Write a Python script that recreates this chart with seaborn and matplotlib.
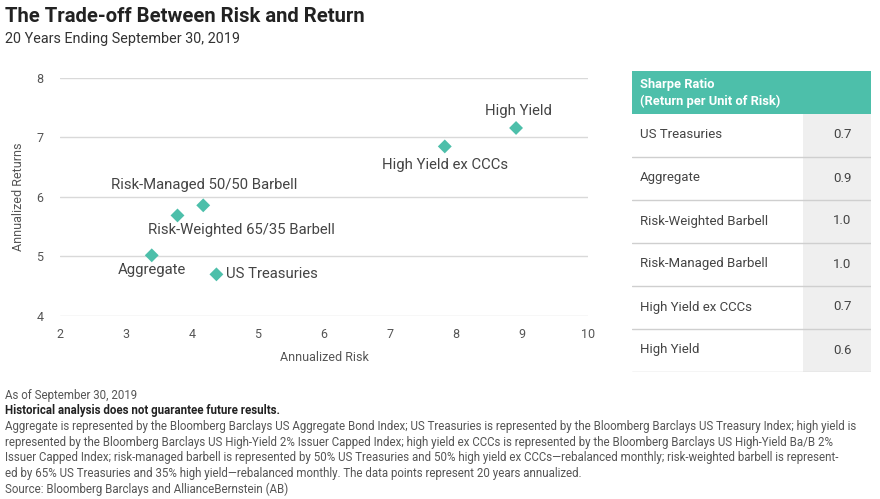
import pandas as pd
import seaborn as sns
import matplotlib.pyplot as plt
from matplotlib.patches import Rectangle

# %% data
names = ['High Yield', 'High Yield ex CCCs', 'Risk-Managed 50/50 Barbell',
         'Risk-Weighted 65/35 Barbell', 'Aggregate', 'US Treasuries']
risk = [8.91, 7.83, 4.17, 3.78, 3.39, 4.37]
ret = [7.16, 6.85, 5.86, 5.69, 5.02, 4.70]

table_names = ['US Treasuries', 'Aggregate', 'Risk-Weighted Barbell',
               'Risk-Managed Barbell', 'High Yield ex CCCs', 'High Yield']
sharpe = ['0.7', '0.9', '1.0', '1.0', '0.7', '0.6']

x_ticks = [2, 3, 4, 5, 6, 7, 8, 9, 10]
y_ticks = [4, 5, 6, 7, 8]

df = pd.DataFrame({'name': names, 'risk': risk, 'ret': ret})

# %% style
sns.set_theme(style='white')
plt.rcParams['font.family'] = ['Roboto', 'DejaVu Sans']
teal = '#4dbfaa'
grey_txt = '#555555'

fig = plt.figure(figsize=(8.8, 4.99), dpi=100)
W, H = 880, 499

ax = fig.add_axes([60 / W, 1 - 316 / H, 528 / W, 238 / H])
sns.scatterplot(data=df, x='risk', y='ret', marker='D', s=50, color=teal,
                edgecolor='none', ax=ax, zorder=3, legend=False)
ax.set_xlim(2, 10)
ax.set_ylim(4, 8)
ax.set_xticks(x_ticks)
ax.set_yticks(y_ticks)
ax.grid(axis='y', color='#d9d9d9', linewidth=1)
ax.grid(axis='x', visible=False)
sns.despine(ax=ax, left=True, bottom=True)
ax.tick_params(axis='both', colors=grey_txt, labelsize=9, length=0)
ax.tick_params(axis='y', pad=12)
ax.tick_params(axis='x', pad=9)
ax.set_xlabel('Annualized Risk', color=grey_txt, fontsize=9, labelpad=7)
ax.set_ylabel('Annualized Returns', color=grey_txt, fontsize=9, labelpad=8)

# label offsets in pixels (dx, dy, ha)
offsets = {
    'High Yield': (2, 17, 'center'),
    'High Yield ex CCCs': (0, -19, 'center'),
    'Risk-Managed 50/50 Barbell': (1, 20, 'center'),
    'Risk-Weighted 65/35 Barbell': (-29, -15, 'left'),
    'Aggregate': (0, -15, 'center'),
    'US Treasuries': (10, 0, 'left'),
}
for n, x, y in zip(names, risk, ret):
    dx, dy, ha = offsets[n]
    ax.annotate(n, (x, y), xytext=(dx, dy), textcoords='offset pixels',
                ha=ha, va='center', fontsize=10.7, color='#444444')

# %% sharpe ratio table
tax = fig.add_axes([632 / W, 1 - 372 / H, 239 / W, 301 / H])
tax.set_xlim(0, 239)
tax.set_ylim(301, 0)
tax.axis('off')
tax.add_patch(Rectangle((0, 0), 239, 43, color=teal, lw=0))
tax.text(8, 14, 'Sharpe Ratio', color='white', fontsize=9.3,
         fontweight='bold', va='center')
tax.text(8, 30, '(Return per Unit of Risk)', color='white', fontsize=9.3,
         fontweight='bold', va='center')
tax.add_patch(Rectangle((171, 43), 68, 258, color='#efefef', lw=0))
for i, (n, v) in enumerate(zip(table_names, sharpe)):
    y0 = 43 + 43 * i
    tax.text(8, y0 + 21, n, color='#444444', fontsize=9.5, va='center')
    tax.text(210, y0 + 21, v, color='#444444', fontsize=9.5, va='center',
             ha='center')
    tax.plot([0, 239], [y0 + 43, y0 + 43], color='#cfcfcf', lw=1)

# %% titles and notes
fig.text(5 / W, 1 - 17 / H, 'The Trade-off Between Risk and Return',
         fontsize=14.6, fontweight='bold', color='#222222', va='center')
fig.text(5 / W, 1 - 39 / H, '20 Years Ending September 30, 2019',
         fontsize=10.4, color='#333333', va='center')

notes = [
    ('As of September 30, 2019', 'normal'),
    ('Historical analysis does not guarantee future results.', 'bold'),
    ('Aggregate is represented by the Bloomberg Barclays US Aggregate Bond Index; US Treasuries is represented by the Bloomberg Barclays US Treasury Index; high yield is', 'normal'),
    ('represented by the Bloomberg Barclays US High-Yield 2% Issuer Capped Index; high yield ex CCCs is represented by the Bloomberg Barclays US High-Yield Ba/B 2%', 'normal'),
    ('Issuer Capped Index; risk-managed barbell is represented by 50% US Treasuries and 50% high yield ex CCCs\u2014rebalanced monthly; risk-weighted barbell is represent-', 'normal'),
    ('ed by 65% US Treasuries and 35% high yield\u2014rebalanced monthly. The data points represent 20 years annualized.', 'normal'),
    ('Source: Bloomberg Barclays and AllianceBernstein (AB)', 'normal'),
]
for i, (line, wt) in enumerate(notes):
    fig.text(5 / W, 1 - (395 + 15.7 * i) / H, line, fontsize=8.3,
             fontweight=wt, color='#222222' if wt == 'bold' else grey_txt,
             va='center')

fig.savefig('out.png', dpi=100)
